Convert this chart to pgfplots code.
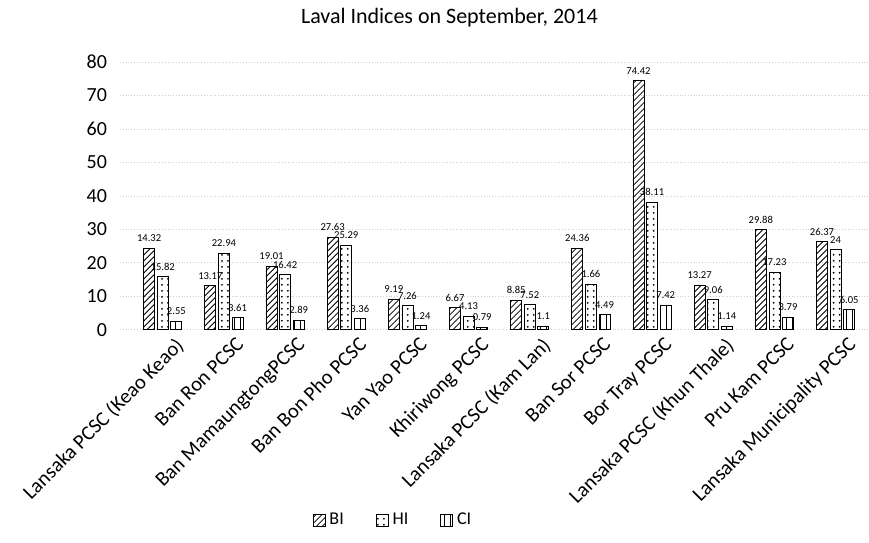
\documentclass[border=0pt]{standalone}
\usepackage{pgfplots}
\pgfplotsset{compat=1.18}
\usepackage{pgfplotstable}
\usetikzlibrary{patterns}
\usepackage{fontspec}
\setmainfont{Carlito}
\pgfplotstableread{
x y lab
0 24.32 14.32
1 13.17 13.17
2 19.01 19.01
3 27.63 27.63
4 9.19 9.19
5 6.67 6.67
6 8.85 8.85
7 24.36 24.36
8 74.42 74.42
9 13.27 13.27
10 29.88 29.88
11 26.37 26.37
}\bi
\pgfplotstableread{
x y lab
0 15.82 15.82
1 22.94 22.94
2 16.42 16.42
3 25.29 25.29
4 7.26 7.26
5 4.13 4.13
6 7.52 7.52
7 13.66 1.66
8 38.11 38.11
9 9.06 9.06
10 17.23 17.23
11 24 24
}\hi
\pgfplotstableread{
x y lab
0 2.55 2.55
1 3.61 3.61
2 2.89 2.89
3 3.36 3.36
4 1.24 1.24
5 0.79 0.79
6 1.1 1.1
7 4.49 4.49
8 7.42 7.42
9 1.14 1.14
10 3.79 3.79
11 6.05 6.05
}\ci
\begin{document}
\begin{tikzpicture}
\begin{axis}[
  scale only axis, width=374.5pt, height=134pt,
  ybar=1.3pt, bar width=5.5pt,
  xmin=-0.7, xmax=11.54, ymin=0, ymax=80,
  ytick={0,10,...,80},
  xtick={0,...,11},
  xticklabels={Lansaka PCSC (Keao Keao),Ban Ron PCSC,Ban MamaungtongPCSC,Ban Bon Pho PCSC,Yan Yao PCSC,Khiriwong PCSC,Lansaka PCSC (Kam Lan),Ban Sor PCSC,Bor Tray PCSC,Lansaka PCSC (Khun Thale),Pru Kam PCSC,Lansaka Municipality PCSC},
  x tick label style={rotate=45, anchor=north east, font=\fontsize{10.3}{12}\selectfont, inner sep=1pt, xshift=3pt, yshift=-5pt},
  y tick label style={font=\fontsize{10}{12}\selectfont, xshift=-3pt},
  /pgf/number format/assume math mode=true,
  axis line style={draw=none},
  major tick length=0pt,
  ymajorgrids, grid style={densely dotted, gray!40},
  title={Laval Indices on September, 2014},
  title style={font=\fontsize{11}{13}\selectfont, at={(0.44,1)}, yshift=8pt},
  nodes near coords,
  point meta=explicit symbolic,
  every node near coord/.append style={font=\fontsize{5.3}{6}\selectfont, inner sep=1pt, yshift=2pt},
  legend style={at={(0.366,-0.71)}, anchor=center, draw=none, legend columns=3, font=\fontsize{9}{10}\selectfont, /tikz/every even column/.append style={column sep=14pt}},
  legend image code/.code={\draw[#1] (0pt,-3pt) rectangle (6pt,3pt);},
]
\addplot[draw=black, pattern=north east lines] table[x=x,y=y,meta=lab] {\bi};
\addplot[draw=black, pattern=dots] table[x=x,y=y,meta=lab] {\hi};
\addplot[draw=black, pattern=vertical lines] table[x=x,y=y,meta=lab] {\ci};
\legend{BI,HI,CI}
\end{axis}
\path (current axis.south west) ++(-60pt,-106.5pt) coordinate (bl);
\path (current axis.north east) ++(0pt,31pt) coordinate (tr);
\path (bl) rectangle (tr);
\end{tikzpicture}
\end{document}
